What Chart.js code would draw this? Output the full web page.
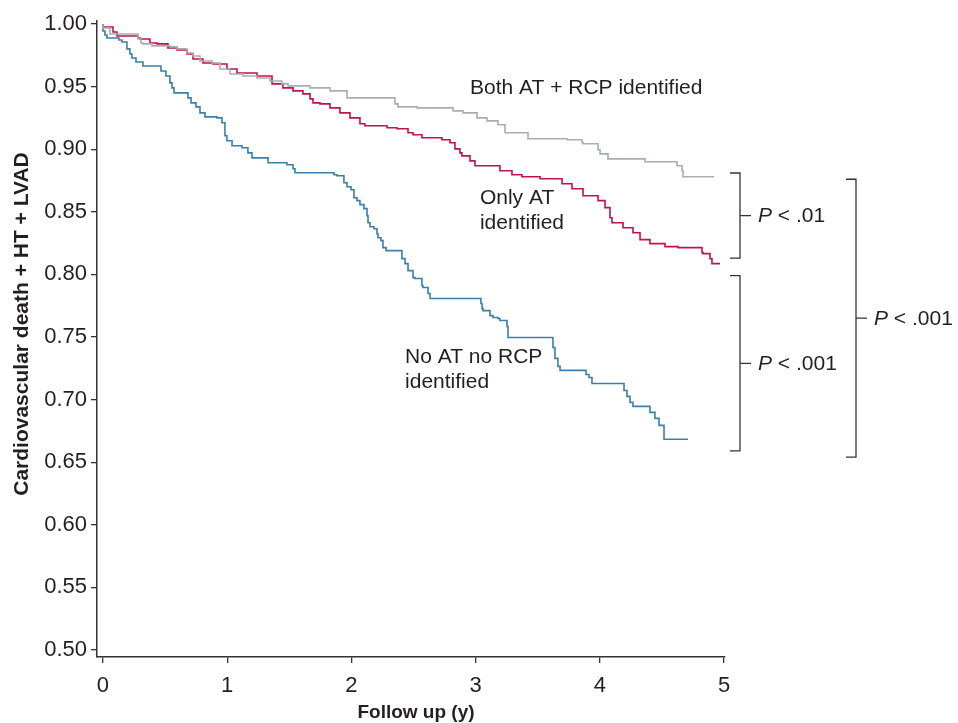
<!DOCTYPE html>
<html>
<head>
<meta charset="utf-8">
<script src="https://cdn.jsdelivr.net/npm/chart.js@4/dist/chart.umd.min.js"></script>
<style>
  html,body{margin:0;padding:0;background:#fff;}
  #wrap{width:958px;height:723px;}
</style>
</head>
<body>
<div id="wrap"><canvas id="km-chart" width="958" height="723"></canvas></div>
<script>
// follow up in years, survival free of cardiovascular death + HT + LVAD
const bothTime=[0,0.056,0.282,0.306,0.322,0.395,0.539,0.596,0.676,0.725,0.781,0.878,0.942,1.023,1.127,1.240,1.345,1.441,1.490,1.667,1.828,1.965,2.351,2.375,2.528,2.818,2.899,3.011,3.092,3.180,3.237,3.422,3.736,3.857,3.865,3.986,4.002,4.066,4.364,4.622,4.662,4.670,4.920];
const bothSurv=[1.0,0.9968,0.9920,0.9880,0.9848,0.9841,0.9825,0.9817,0.9801,0.9769,0.9745,0.9705,0.9689,0.9641,0.9601,0.9585,0.9569,0.9545,0.9522,0.9506,0.9490,0.9466,0.9410,0.9362,0.9338,0.9330,0.9306,0.9290,0.9250,0.9226,0.9195,0.9131,0.9083,0.9075,0.9051,0.9043,0.8995,0.8963,0.8923,0.8900,0.8868,0.8828,0.8780];

const atTime=[0,0.081,0.113,0.282,0.298,0.378,0.435,0.523,0.596,0.676,0.725,0.805,0.886,0.998,1.079,1.240,1.361,1.449,1.530,1.610,1.667,1.691,1.747,1.828,1.908,1.989,2.069,2.109,2.287,2.367,2.456,2.496,2.568,2.729,2.794,2.834,2.874,2.890,2.955,2.995,3.196,3.293,3.373,3.519,3.696,3.776,3.865,3.986,4.042,4.082,4.098,4.187,4.267,4.324,4.404,4.525,4.630,4.823,4.831,4.887,4.903,4.952,4.968];
const atSurv=[1.0,0.9976,0.9936,0.9904,0.9888,0.9880,0.9848,0.9841,0.9809,0.9793,0.9761,0.9721,0.9689,0.9681,0.9641,0.9609,0.9585,0.9522,0.9490,0.9466,0.9442,0.9402,0.9370,0.9362,0.9330,0.9290,0.9250,0.9203,0.9187,0.9171,0.9163,0.9131,0.9115,0.9091,0.9075,0.9051,0.9003,0.8971,0.8947,0.8907,0.8868,0.8828,0.8796,0.8780,0.8764,0.8724,0.8684,0.8628,0.8589,0.8533,0.8453,0.8413,0.8373,0.8333,0.8278,0.8246,0.8222,0.8214,0.8174,0.8166,0.8126,0.8086,0.8086];

const noneTime=[0,0.016,0.032,0.129,0.153,0.193,0.217,0.233,0.266,0.322,0.467,0.507,0.539,0.556,0.572,0.684,0.709,0.749,0.781,0.821,0.918,0.958,0.982,0.998,1.039,1.119,1.167,1.200,1.329,1.481,1.530,1.546,1.860,1.884,1.940,1.965,1.997,2.021,2.045,2.069,2.101,2.126,2.134,2.150,2.182,2.206,2.214,2.238,2.254,2.279,2.407,2.432,2.456,2.496,2.512,2.568,2.576,2.617,2.633,3.043,3.052,3.060,3.116,3.140,3.180,3.196,3.253,3.261,3.623,3.639,3.663,3.680,3.889,3.913,3.937,4.195,4.219,4.243,4.267,4.404,4.444,4.477,4.517,4.710];
const noneSurv=[1.0,0.9944,0.9912,0.9888,0.9872,0.9856,0.9801,0.9761,0.9729,0.9697,0.9665,0.9625,0.9585,0.9530,0.9490,0.9450,0.9410,0.9370,0.9338,0.9290,0.9258,0.9250,0.9211,0.9107,0.9067,0.9027,0.9011,0.8971,0.8931,0.8892,0.8876,0.8844,0.8812,0.8796,0.8788,0.8732,0.8700,0.8676,0.8612,0.8589,0.8557,0.8525,0.8469,0.8413,0.8381,0.8365,0.8325,0.8293,0.8270,0.8214,0.8190,0.8126,0.8086,0.8030,0.7974,0.7967,0.7911,0.7895,0.7847,0.7807,0.7767,0.7727,0.7711,0.7671,0.7656,0.7648,0.7632,0.7584,0.7496,0.7416,0.7329,0.7265,0.7233,0.7201,0.7177,0.7129,0.7073,0.7026,0.6978,0.6946,0.6898,0.6850,0.6794,0.6683];

const xTicks=[0,1,2,3,4,5];
const yTicks=[0.50,0.55,0.60,0.65,0.70,0.75,0.80,0.85,0.90,0.95,1.00];

// curve labels: [text lines, x, y (centre of first line)]
const curveLabels=[
  [['Both AT + RCP identified'],2.955,0.949],
  [['Only AT','identified'],3.035,0.8605],
  [['No AT no RCP','identified'],2.432,0.734]
];
// bracket groups: [top value, bottom value, text, column]
const pBrackets=[
  [0.881,0.813,'.01',0],
  [0.799,0.659,'.001',0],
  [0.876,0.654,'.001',1]
];

const FONT='"Liberation Sans", Arial, Helvetica, sans-serif';
const TXT='#231f20';

function toPoints(t,s){
  return t.map((v,i)=>({x:v,y:s[i]}));
}

const extras={
  id:'extras',
  afterDraw(chart){
    const ctx=chart.ctx;
    const xs=chart.scales.x, ys=chart.scales.y, area=chart.chartArea;
    ctx.save();
    ctx.fillStyle=TXT;
    ctx.font='21px '+FONT;
    ctx.textBaseline='middle';
    ctx.textAlign='left';
    curveLabels.forEach(l=>{
      const px=xs.getPixelForValue(l[1]);
      const py=ys.getPixelForValue(l[2]);
      l[0].forEach((line,i)=>ctx.fillText(line,px,py+i*25));
    });

    // brackets
    ctx.strokeStyle='#333';
    ctx.lineWidth=1.3;
    pBrackets.forEach(b=>{
      const bx=b[3]===0? area.right+15 : area.right+131;
      const top=ys.getPixelForValue(b[0]);
      const bot=ys.getPixelForValue(b[1]);
      const mid=(top+bot)/2;
      ctx.beginPath();
      ctx.moveTo(bx-10,top);ctx.lineTo(bx,top);ctx.lineTo(bx,bot);ctx.lineTo(bx-10,bot);
      ctx.moveTo(bx,mid);ctx.lineTo(bx+11,mid);
      ctx.stroke();
      let tx=bx+18;
      ctx.font='italic 21px '+FONT;
      ctx.fillText('P',tx,mid+1);
      tx+=ctx.measureText('P ').width;
      ctx.font='21px '+FONT;
      ctx.fillText('< '+b[2],tx,mid+1);
    });

    // axis titles
    ctx.font='bold 19px '+FONT;
    ctx.textAlign='center';
    ctx.fillText('Follow up (y)',(area.left+area.right)/2+5,713);
    ctx.font='bold 21px '+FONT;
    ctx.translate(22,324);
    ctx.rotate(-Math.PI/2);
    ctx.fillText('Cardiovascular death + HT + LVAD',0,0);
    ctx.restore();
  }
};

const ctx=document.getElementById('km-chart').getContext('2d');
const kmChart=new Chart(ctx,{
  type:'line',
  data:{
    datasets:[
      {label:'Both AT + RCP identified',data:toPoints(bothTime,bothSurv),borderColor:'#a9aeb1'},
      {label:'Only AT identified',data:toPoints(atTime,atSurv),borderColor:'#c4114b'},
      {label:'No AT no RCP identified',data:toPoints(noneTime,noneSurv),borderColor:'#3a7fad'}
    ]
  },
  options:{
    responsive:false,
    animation:false,
    devicePixelRatio:1,
    layout:{padding:{left:0,top:21,right:233,bottom:0}},
    elements:{
      line:{stepped:'after',borderWidth:1.6,fill:false,tension:0},
      point:{radius:0,hoverRadius:0}
    },
    plugins:{legend:{display:false},tooltip:{enabled:false}},
    scales:{
      x:{
        type:'linear',min:-0.048,max:5.008,
        afterBuildTicks(s){s.ticks=xTicks.map(v=>({value:v}));},
        afterFit(s){s.height=66;},
        ticks:{color:TXT,font:{family:FONT,size:22},padding:10,maxRotation:0,
          callback:v=>String(v)},
        grid:{drawOnChartArea:false,drawTicks:true,tickLength:6,color:'#333',lineWidth:1.3},
        border:{display:true,color:'#333',width:1.5}
      },
      y:{
        type:'linear',min:0.4944,max:1.0024,
        afterBuildTicks(s){s.ticks=yTicks.map(v=>({value:v}));},
        afterFit(s){s.width=97;},
        ticks:{color:TXT,font:{family:FONT,size:22},padding:4,
          callback:v=>v.toFixed(2)},
        grid:{drawOnChartArea:false,drawTicks:true,tickLength:6,color:'#333',lineWidth:1.3},
        border:{display:true,color:'#333',width:1.5}
      }
    }
  },
  plugins:[extras]
});
</script>
</body>
</html>
